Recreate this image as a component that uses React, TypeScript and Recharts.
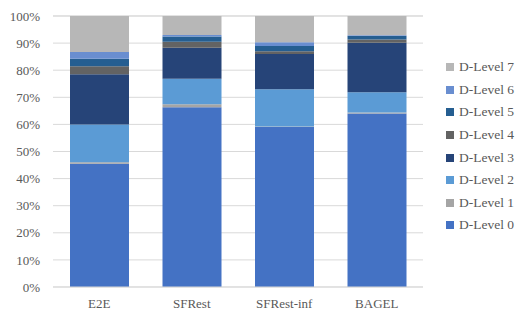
import React from "react";
import { BarChart, Bar, XAxis, YAxis, CartesianGrid, Legend } from "recharts";

const categories = ["E2E", "SFRest", "SFRest-inf", "BAGEL"];
const level0 = [45.5, 66.3, 59.0, 64.0];
const level1 = [0.5, 1.1, 0.2, 0.4];
const level2 = [14.0, 9.4, 13.8, 7.5];
const level3 = [18.5, 11.5, 13.0, 18.2];
const level4 = [3.0, 2.2, 1.0, 1.2];
const level5 = [2.7, 1.9, 1.9, 1.3];
const level6 = [2.5, 0.6, 1.4, 0.3];
const level7 = [13.3, 7.0, 9.7, 7.1];
const yTicks = [0, 10, 20, 30, 40, 50, 60, 70, 80, 90, 100];

const levels = [level0, level1, level2, level3, level4, level5, level6, level7];
const names = levels.map((_, i) => `D-Level ${i}`);
const colors = ["#4472C4", "#A5A5A5", "#5B9BD5", "#264478", "#636363", "#255E91", "#698ED0", "#B7B7B7"];

const data = categories.map((c, ci) => {
  const row: Record<string, number | string> = { name: c };
  levels.forEach((arr, li) => {
    row[names[li]] = arr[ci];
  });
  return row;
});

const FONT = "'Liberation Serif', serif";
const TEXT = "#595959";

const renderLegend = () => {
  const items = names.map((n, i) => ({ n, c: colors[i] })).reverse();
  return (
    <div style={{ fontFamily: FONT, fontSize: 13.5, color: TEXT }}>
      {items.map((it) => (
        <div key={it.n} style={{ display: "flex", alignItems: "center", height: 22.6 }}>
          <span style={{ display: "inline-block", width: 8, height: 8, background: it.c, marginRight: 5 }} />
          <span>{it.n}</span>
        </div>
      ))}
    </div>
  );
};

export default function App() {
  return (
    <div style={{ position: "absolute", left: 0, top: 0 }}>
      <BarChart
        width={531}
        height={324}
        data={data}
        margin={{ top: 16, right: 8, bottom: 0, left: 0 }}
        barSize={59}
      >
        <CartesianGrid vertical={false} stroke="#d9d9d9" />
        <XAxis
          dataKey="name"
          tickLine={false}
          axisLine={{ stroke: "#d9d9d9" }}
          tick={{ fill: TEXT, fontFamily: FONT, fontSize: 13 }}
          tickMargin={6}
          height={37}
        />
        <YAxis
          domain={[0, 100]}
          ticks={yTicks}
          interval={0}
          tickFormatter={(v: number) => `${v}%`}
          tickLine={false}
          axisLine={false}
          tickSize={0}
          tickMargin={13}
          width={53}
          tick={{ fill: TEXT, fontFamily: FONT, fontSize: 13 }}
        />
        <Legend
          layout="vertical"
          align="right"
          verticalAlign="top"
          content={renderLegend}
          wrapperStyle={{ position: "absolute", left: 446, top: 56, width: 100 }}
        />
        {names.map((n, i) => (
          <Bar key={n} dataKey={n} stackId="a" fill={colors[i]} isAnimationActive={false} />
        ))}
      </BarChart>
    </div>
  );
}
